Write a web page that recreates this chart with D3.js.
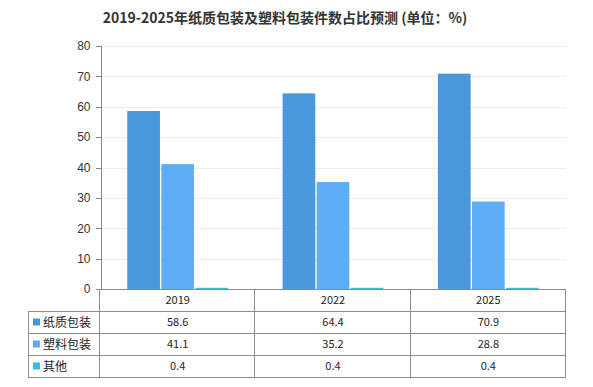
<!DOCTYPE html>
<head>
    <meta charset="utf-8" />
</head>
<style>
    body {
        margin: 0;
        background: #fff;
        font-family: "Noto Sans CJK SC", "Liberation Sans", sans-serif;
    }

    .grid line {
        stroke: #ececec;
        shape-rendering: crispEdges;
    }

    .y_axis text {
        font-size: 12px;
        fill: #333;
        font-family: "Liberation Sans", Arial, sans-serif;
    }

    .y_axis line, .y_axis path {
        stroke: #888;
        shape-rendering: crispEdges;
    }

    .tbl line {
        stroke: #8c8c8c;
        shape-rendering: crispEdges;
    }

    .tbl text {
        font-size: 11px;
        fill: #222;
    }
</style>

<body>
    <svg width="593" height="387"></svg>
</body>
<script src="https://d3js.org/d3.v7.min.js"></script>
<script>
    var svg = d3.select("svg");

    var titleText = "2019-2025年纸质包装及塑料包装件数占比预测 (单位：%)";
    var years = ["2019", "2022", "2025"];
    var seriesNames = ["纸质包装", "塑料包装", "其他"];
    var paper = [58.6, 64.4, 70.9];
    var plastic = [41.1, 35.2, 28.8];
    var other = [0.4, 0.4, 0.4];
    var yTicks = [0, 10, 20, 30, 40, 50, 60, 70, 80];
    var colors = ["#4a97dc", "#5eadf7", "#35bfd9"];

    var allSeries = [paper, plastic, other];

    var margin = { left: 100, right: 27, top: 46, bottom: 98 };
    var width = 593 - margin.left - margin.right;
    var height = 387 - margin.top - margin.bottom;

    var x = d3.scaleBand().domain(years).range([margin.left, margin.left + width]);
    var x1 = d3.scaleBand().domain(seriesNames).range([0, x.bandwidth()]).paddingOuter(0.8).paddingInner(0.04);
    var y = d3.scaleLinear().domain([0, 80]).range([margin.top + height, margin.top]);

    // title
    svg.append("text")
        .attr("x", 285)
        .attr("y", 23)
        .attr("text-anchor", "middle")
        .style("font-size", "14px")
        .style("font-weight", "bold")
        .style("fill", "#333")
        .text(titleText);

    // grid lines
    svg.append("g").attr("class", "grid")
        .selectAll("line")
        .data(yTicks.slice(1))
        .enter().append("line")
        .attr("x1", margin.left)
        .attr("x2", margin.left + width)
        .attr("y1", d => Math.round(y(d)) + 0.5)
        .attr("y2", d => Math.round(y(d)) + 0.5);

    // bars
    var groups = svg.selectAll(".yr")
        .data(years)
        .enter().append("g")
        .attr("transform", d => "translate(" + x(d) + ",0)");

    groups.selectAll("rect")
        .data((d, i) => seriesNames.map((s, j) => ({ s: s, v: allSeries[j][i], c: colors[j] })))
        .enter().append("rect")
        .attr("x", d => x1(d.s))
        .attr("width", x1.bandwidth())
        .attr("y", d => y(d.v))
        .attr("height", d => y(0) - y(d.v))
        .style("fill", d => d.c);

    // y axis
    svg.append("g")
        .attr("class", "y_axis")
        .attr("transform", "translate(" + (margin.left + 0.5) + ",0)")
        .call(d3.axisLeft(y).tickValues(yTicks).tickSize(5).tickPadding(5));

    // data table
    var rowH = 22;
    var top0 = y(0);
    var tbl = svg.append("g").attr("class", "tbl");
    var tLeft = 28, tRight = margin.left + width;

    // horizontal lines
    var hLines = [0, 1, 2, 3, 4];
    tbl.selectAll(".h")
        .data(hLines)
        .enter().append("line")
        .attr("x1", d => d == 0 ? margin.left : tLeft)
        .attr("x2", tRight)
        .attr("y1", d => Math.round(top0 + d * rowH) + 0.5)
        .attr("y2", d => Math.round(top0 + d * rowH) + 0.5);

    // vertical lines
    var vx = [margin.left].concat(years.map(d => x(d) + x.bandwidth()));
    tbl.selectAll(".v")
        .data(vx)
        .enter().append("line")
        .attr("x1", d => Math.round(d) - 0.5)
        .attr("x2", d => Math.round(d) - 0.5)
        .attr("y1", top0)
        .attr("y2", top0 + 4 * rowH);
    tbl.append("line")
        .attr("x1", tLeft + 0.5).attr("x2", tLeft + 0.5)
        .attr("y1", top0 + rowH).attr("y2", top0 + 4 * rowH);

    // year header
    tbl.selectAll(".yl")
        .data(years)
        .enter().append("text")
        .attr("x", d => x(d) + x.bandwidth() / 2)
        .attr("y", top0 + rowH / 2 + 4)
        .attr("text-anchor", "middle")
        .text(d => d);

    // series rows
    seriesNames.forEach(function (s, j) {
        var cy = top0 + (j + 1) * rowH + rowH / 2;
        tbl.append("rect")
            .attr("x", 33).attr("y", cy - 3.5)
            .attr("width", 7).attr("height", 7)
            .style("fill", colors[j]);
        tbl.append("text")
            .attr("x", 43).attr("y", cy + 4.5)
            .style("font-size", "12px")
            .text(s);
        tbl.selectAll(".v" + j)
            .data(years)
            .enter().append("text")
            .attr("x", d => x(d) + x.bandwidth() / 2)
            .attr("y", cy + 4)
            .attr("text-anchor", "middle")
            .text((d, i) => allSeries[j][i].toFixed(1));
    });
</script>
